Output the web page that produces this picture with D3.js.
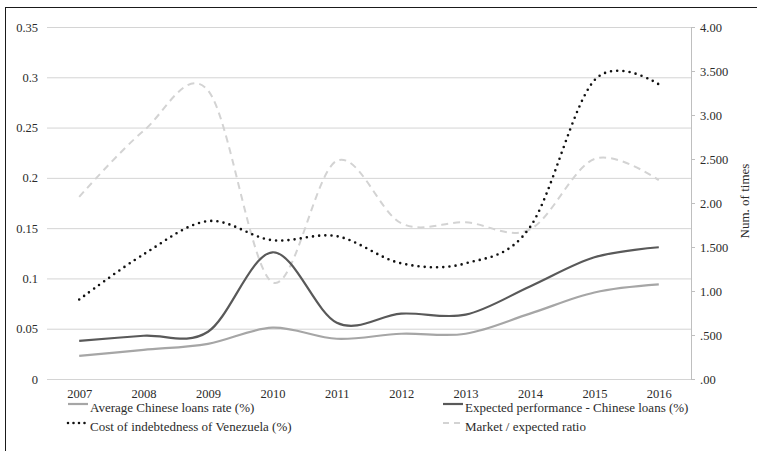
<!DOCTYPE html>
<html>
<head>
<meta charset="utf-8">
<script src="https://cdn.jsdelivr.net/npm/d3@7"></script>
<style>
  html, body { margin: 0; padding: 0; background: #fff; }
  svg { display: block; }
  text { font-family: "Liberation Serif", "DejaVu Serif", serif; fill: #2b2b2b; }
</style>
</head>
<body>
<svg id="chart" width="757" height="451"></svg>
<script>
// Years on the category axis
const years = ["2007", "2008", "2009", "2010", "2011", "2012", "2013", "2014", "2015", "2016"];

// Left axis series (rates)
const avgChineseRate   = [0.023, 0.029, 0.035, 0.051, 0.040, 0.045, 0.045, 0.065, 0.086, 0.094];
const expectedPerf     = [0.038, 0.043, 0.047, 0.126, 0.056, 0.065, 0.064, 0.092, 0.121, 0.131];
const costVenezuela    = [0.079, 0.124, 0.157, 0.138, 0.142, 0.115, 0.115, 0.151, 0.297, 0.293];

// Right axis series (number of times)
const marketExpected   = [2.07, 2.82, 3.28, 1.10, 2.48, 1.77, 1.78, 1.70, 2.50, 2.26];

// Tick values and labels
const leftTicks  = [0, 0.05, 0.1, 0.15, 0.2, 0.25, 0.3, 0.35];
const leftLabels = ["0", "0.05", "0.1", "0.15", "0.2", "0.25", "0.3", "0.35"];
const rightTicks  = [0, 0.5, 1, 1.5, 2, 2.5, 3, 3.5, 4];
const rightLabels = [".00", ".500", "1.00", "1.500", "2.00", "2.500", "3.00", "3.500", "4.00"];

const legendNames = [
  "Average Chinese loans rate (%)",
  "Expected performance - Chinese loans (%)",
  "Cost of indebtedness of Venezuela (%)",
  "Market / expected ratio"
];

const svg = d3.select("#chart");

const plot = { left: 47, right: 691, top: 27, bottom: 379 };

const x = d3.scalePoint().domain(years).range([plot.left, plot.right]).padding(0.5);
const yL = d3.scaleLinear().domain([0, 0.35]).range([plot.bottom, plot.top]);
const yR = d3.scaleLinear().domain([0, 4]).range([plot.bottom, plot.top]);

// Outer frame (top and left edges show inside the canvas)
svg.append("rect")
  .attr("x", 5.5).attr("y", 7.5)
  .attr("width", 820).attr("height", 520)
  .attr("fill", "none").attr("stroke", "#1a1a1a").attr("stroke-width", 1);

// Horizontal gridlines and left labels
const gridAxis = d3.axisLeft(yL)
  .tickValues(leftTicks)
  .tickSize(-(plot.right - plot.left))
  .tickPadding(9)
  .tickFormat((d, i) => leftLabels[i]);

const gL = svg.append("g")
  .attr("transform", `translate(${plot.left},0)`)
  .call(gridAxis);
gL.select(".domain").remove();
gL.selectAll(".tick line").attr("stroke", "#d4d4d4").attr("stroke-width", 1);
gL.selectAll(".tick text")
  .attr("font-size", "12.5px")
  .attr("font-family", "Liberation Serif, serif")
  .attr("fill", "#2b2b2b");

// Right axis
const rightAxis = d3.axisRight(yR)
  .tickValues(rightTicks)
  .tickSize(4)
  .tickPadding(5)
  .tickFormat((d, i) => rightLabels[i]);

const gR = svg.append("g")
  .attr("transform", `translate(${plot.right},0)`)
  .call(rightAxis);
gR.select(".domain").attr("stroke", "#bfbfbf");
gR.selectAll(".tick line").attr("stroke", "#bfbfbf");
gR.selectAll(".tick text")
  .attr("font-size", "12.5px")
  .attr("font-family", "Liberation Serif, serif")
  .attr("fill", "#2b2b2b");

// Right axis title
svg.append("text")
  .attr("transform", `translate(749,201) rotate(-90)`)
  .attr("text-anchor", "middle")
  .attr("font-size", "13px")
  .text("Num. of times");

// Category axis labels
const xAxis = d3.axisBottom(x).tickSize(0).tickPadding(10);
const gX = svg.append("g")
  .attr("transform", `translate(0,${plot.bottom})`)
  .call(xAxis);
gX.select(".domain").remove();
gX.selectAll(".tick text")
  .attr("font-size", "12.5px")
  .attr("font-family", "Liberation Serif, serif")
  .attr("fill", "#2b2b2b");

// Series definitions
const series = [
  { name: legendNames[0], values: avgChineseRate, scale: yL, color: "#a6a6a6", width: 2.2, dash: null, cap: "butt" },
  { name: legendNames[1], values: expectedPerf,   scale: yL, color: "#595959", width: 2.2, dash: null, cap: "butt" },
  { name: legendNames[2], values: costVenezuela,  scale: yL, color: "#111111", width: 2.6, dash: "0,6.2", cap: "round" },
  { name: legendNames[3], values: marketExpected, scale: yR, color: "#d3d3d3", width: 2.0, dash: "7,5", cap: "butt" }
];

const drawOrder = [3, 0, 1, 2];
drawOrder.forEach(i => {
  const s = series[i];
  const line = d3.line()
    .x((d, j) => x(years[j]))
    .y(d => s.scale(d))
    .curve(d3.curveCardinal.tension(0));
  svg.append("path")
    .datum(s.values)
    .attr("d", line)
    .attr("fill", "none")
    .attr("stroke", s.color)
    .attr("stroke-width", s.width)
    .attr("stroke-linecap", s.cap)
    .attr("stroke-dasharray", s.dash);
});

// Legend: two columns, two rows
const legendPos = [
  { x: 68, y: 408 },
  { x: 443, y: 408 },
  { x: 68, y: 427 },
  { x: 443, y: 427 }
];
series.forEach((s, i) => {
  const p = legendPos[i];
  const g = svg.append("g").attr("transform", `translate(${p.x},${p.y})`);
  g.append("line")
    .attr("x1", 0).attr("x2", 20)
    .attr("y1", -4).attr("y2", -4)
    .attr("stroke", s.color)
    .attr("stroke-width", s.width)
    .attr("stroke-linecap", s.cap)
    .attr("stroke-dasharray", s.dash ? (s.cap === "round" ? "0,5.5" : "6,5") : null);
  g.append("text")
    .attr("x", 22).attr("y", 0)
    .attr("dy", "0.32em")
    .attr("font-size", "13px")
    .text(s.name);
});
</script>
</body>
</html>
